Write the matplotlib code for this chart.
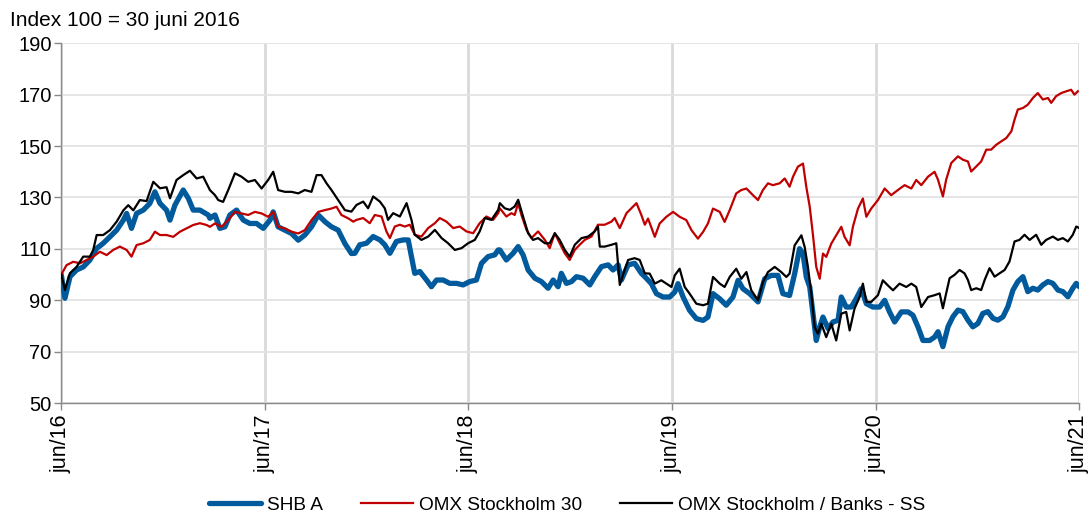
import matplotlib
matplotlib.use("Agg")
import matplotlib.pyplot as plt

plt.rcParams['font.family'] = ['Liberation Sans', 'DejaVu Sans']

# ---------------- data (years since 30 June 2016, index value) ----------------
tick_labels = ['jun/16', 'jun/17', 'jun/18', 'jun/19', 'jun/20', 'jun/21']
y_ticks = [50, 70, 90, 110, 130, 150, 170, 190]
series_names = ['SHB A', 'OMX Stockholm 30', 'OMX Stockholm / Banks - SS']

shb = [
    (0.0, 100), (0.018, 90.8), (0.043, 99.2), (0.075, 101.8), (0.108, 103), (0.141, 105.7), (0.174, 110.2),
    (0.206, 112.2), (0.239, 114.7), (0.272, 117.3), (0.305, 121.2), (0.321, 123.8), (0.345, 118), (0.370, 123.8),
    (0.403, 125.1), (0.435, 127.7), (0.460, 132.2), (0.485, 127.7), (0.517, 125.1), (0.534, 121.2), (0.558, 127),
    (0.599, 132.9), (0.624, 129.7), (0.648, 125.1), (0.681, 125.1), (0.722, 123.2),
    (0.730, 121.9), (0.755, 123.2), (0.779, 118), (0.804, 118.6), (0.828, 123.2), (0.861, 125.1), (0.894, 121.2),
    (0.926, 119.9), (0.959, 119.9), (0.992, 118), (1.025, 121.2), (1.041, 124.4), (1.065, 118.6), (1.098, 117.3),
    (1.131, 116), (1.164, 113.4), (1.196, 115.4), (1.229, 118.6), (1.262, 123.2), (1.295, 120.6), (1.327, 118.6),
    (1.360, 117.3), (1.393, 112.1), (1.425, 108.2),
    (1.442, 108.3), (1.466, 111.6), (1.499, 112.2), (1.532, 114.8), (1.565, 113.5), (1.589, 111.6), (1.614, 108.3),
    (1.646, 112.9), (1.679, 113.5), (1.704, 113.5), (1.720, 107), (1.736, 100.5), (1.761, 101.2), (1.794, 97.9),
    (1.818, 95.3), (1.843, 97.9), (1.876, 97.9), (1.908, 96.6), (1.941, 96.6), (1.974, 96), (2.006, 97.3),
    (2.039, 97.9), (2.064, 104.4), (2.096, 107), (2.129, 107.7), (2.146, 109.6),
    (2.154, 109.6), (2.186, 105.7), (2.219, 108.3), (2.244, 110.9), (2.268, 107.7), (2.293, 101.8), (2.326, 98.6),
    (2.358, 97.3), (2.391, 94.7), (2.416, 97.9), (2.440, 95.3), (2.456, 100.5), (2.481, 96.6), (2.506, 97.3),
    (2.530, 99.2), (2.563, 98.6), (2.596, 96), (2.620, 99.2), (2.653, 103.1), (2.686, 103.8), (2.710, 101.8),
    (2.735, 103.8), (2.751, 97.9), (2.784, 103.8), (2.816, 104.4), (2.849, 100.5), (2.866, 99.2),
    (2.898, 96.5), (2.923, 92.6), (2.955, 91.3), (2.988, 91.3), (3.013, 93.2), (3.029, 96.5), (3.054, 91.3),
    (3.086, 86.1), (3.119, 82.9), (3.152, 82.2), (3.176, 83.5), (3.201, 92.6), (3.234, 90.6), (3.266, 88.1),
    (3.299, 91.3), (3.324, 97.8), (3.348, 94.5), (3.381, 92.6), (3.422, 89.4), (3.455, 98.4), (3.487, 99.7),
    (3.520, 99.7), (3.544, 92.6), (3.577, 91.9),
    (3.602, 100.4), (3.626, 110.1), (3.643, 108.2), (3.659, 99.1), (3.676, 95.2), (3.692, 84.8), (3.708, 74.4),
    (3.725, 79.6), (3.741, 83.5), (3.766, 79), (3.790, 81.6), (3.815, 82.2), (3.831, 91.3), (3.855, 87.4),
    (3.880, 87.4), (3.904, 90.6), (3.929, 94.5), (3.954, 88.7), (3.986, 87.4), (4.019, 87.4), (4.044, 90),
    (4.068, 85.5), (4.093, 81.6), (4.126, 85.5), (4.159, 85.5), (4.183, 84.2), (4.208, 79.6), (4.232, 74.4),
    (4.265, 74.4), (4.289, 75.7),
    (4.306, 77.8), (4.330, 72), (4.355, 79.7), (4.379, 83.6), (4.404, 86.2), (4.428, 85.6), (4.453, 82.3),
    (4.477, 79.7), (4.502, 81), (4.526, 84.9), (4.551, 85.6), (4.576, 83), (4.600, 82.3), (4.625, 83.6),
    (4.649, 87.5), (4.674, 94), (4.698, 97.3), (4.723, 99.2), (4.747, 93.4), (4.772, 94.7), (4.796, 94),
    (4.821, 96), (4.846, 97.3), (4.870, 96.6), (4.895, 94), (4.919, 93.4), (4.944, 91.4), (4.968, 94.7),
    (4.985, 96.6), (5.0, 95.3),
]

omx30 = [
    (0.0, 100), (0.026, 103.7), (0.059, 105), (0.092, 104.4), (0.125, 105.7), (0.157, 107), (0.190, 108.9),
    (0.223, 107.6), (0.255, 109.6), (0.288, 110.9), (0.321, 109.6), (0.345, 107), (0.370, 111.5), (0.403, 112.2),
    (0.435, 113.5), (0.460, 116.7), (0.485, 115.4), (0.517, 115.4), (0.550, 114.7), (0.583, 116.7), (0.615, 118),
    (0.648, 119.3), (0.681, 120), (0.714, 119.3),
    (0.730, 118.6), (0.755, 119.9), (0.787, 118.6), (0.820, 121.2), (0.853, 124.4), (0.885, 123.8), (0.918, 123.2),
    (0.951, 124.4), (0.984, 123.8), (1.016, 122.5), (1.041, 124.4), (1.065, 118.6), (1.098, 118), (1.131, 116.7),
    (1.164, 116), (1.196, 117.3), (1.229, 121.2), (1.262, 124.4), (1.295, 125.1), (1.327, 125.7), (1.352, 126.4),
    (1.376, 123.2), (1.409, 121.9), (1.434, 120.6),
    (1.450, 121.3), (1.483, 122), (1.515, 120), (1.540, 123.2), (1.573, 122.6), (1.597, 116.8), (1.614, 114.2),
    (1.638, 118.7), (1.663, 119.4), (1.687, 118.7), (1.712, 119.4), (1.736, 115.5), (1.769, 114.8), (1.802, 118.1),
    (1.835, 120), (1.859, 122), (1.892, 120.6), (1.925, 118.1), (1.957, 118.7), (1.990, 116.8), (2.023, 116.1),
    (2.055, 120), (2.088, 122.6), (2.121, 121.3), (2.146, 123.9),
    (2.154, 125.8), (2.186, 122.6), (2.211, 123.9), (2.227, 123.2), (2.244, 127.8), (2.260, 123.2), (2.285, 117.4),
    (2.309, 114.2), (2.342, 116.8), (2.375, 113.5), (2.399, 110.3), (2.424, 116.1), (2.448, 112.2), (2.473, 108.3),
    (2.497, 105.7), (2.522, 109.6), (2.546, 111.6), (2.571, 113.5), (2.604, 114.8), (2.636, 119.4), (2.669, 119.4),
    (2.702, 120.6), (2.718, 122), (2.743, 118.1), (2.776, 123.9), (2.800, 125.8), (2.825, 127.8), (2.849, 123.2),
    (2.866, 119.4),
    (2.882, 121.8), (2.915, 114.7), (2.939, 119.9), (2.972, 122.5), (3.005, 124.4), (3.037, 122.5), (3.070, 121.2),
    (3.095, 117.3), (3.127, 114), (3.152, 116.6), (3.176, 119.9), (3.201, 125.7), (3.234, 124.4), (3.258, 120.5),
    (3.283, 125.1), (3.315, 131.6), (3.340, 132.9), (3.365, 133.5), (3.397, 130.9), (3.422, 129), (3.446, 132.9),
    (3.471, 135.5), (3.495, 134.8), (3.528, 135.5), (3.553, 137.4), (3.577, 134.2),
    (3.594, 138.1), (3.618, 142), (3.643, 143.2), (3.659, 134.2), (3.676, 126.4), (3.692, 115.3), (3.708, 103),
    (3.725, 98.4), (3.741, 108.2), (3.757, 106.9), (3.782, 112.1), (3.806, 115.3), (3.831, 118.6), (3.847, 114.7),
    (3.872, 111.4), (3.888, 118.6), (3.913, 125.7), (3.937, 129.6), (3.954, 122.5), (3.978, 125.7), (4.011, 129),
    (4.044, 133.5), (4.076, 130.9), (4.109, 132.9), (4.142, 134.8), (4.175, 133.5), (4.199, 136.8), (4.224, 134.8),
    (4.257, 138.1), (4.289, 140),
    (4.306, 136.9), (4.330, 130.4), (4.346, 136.9), (4.371, 143.4), (4.404, 146), (4.428, 144.7), (4.453, 144),
    (4.469, 140.1), (4.494, 142.1), (4.518, 144), (4.543, 148.6), (4.567, 148.6), (4.592, 150.5), (4.616, 151.8),
    (4.641, 153.1), (4.666, 155.7), (4.682, 160.3), (4.698, 164.2), (4.723, 164.8), (4.747, 166.1), (4.772, 168.7),
    (4.796, 170.6), (4.821, 168.1), (4.846, 168.7), (4.862, 166.8), (4.886, 169.4), (4.911, 170.6), (4.936, 171.3),
    (4.960, 171.9), (4.976, 170), (4.993, 171.3),
]

banks = [
    (0.0, 100), (0.018, 94), (0.043, 100.6), (0.075, 103), (0.108, 107), (0.141, 107), (0.157, 109.6),
    (0.174, 115.4), (0.206, 115.4), (0.239, 117.3), (0.272, 120.6), (0.305, 125), (0.329, 127), (0.354, 125),
    (0.386, 129), (0.419, 128.6), (0.452, 136.1), (0.485, 133.6), (0.517, 134), (0.534, 129.7), (0.566, 136.8),
    (0.599, 138.7), (0.632, 140.4), (0.665, 137.4), (0.697, 138.1),
    (0.730, 132.9), (0.755, 130.9), (0.771, 129), (0.795, 128.3), (0.820, 132.9), (0.853, 139.4), (0.885, 138.1),
    (0.918, 136.1), (0.951, 136.8), (0.984, 133.5), (1.016, 136.8), (1.041, 140), (1.065, 132.9), (1.098, 132.2),
    (1.131, 132.2), (1.164, 131.6), (1.196, 132.9), (1.229, 132.2), (1.254, 138.7), (1.278, 138.7), (1.303, 135.5),
    (1.327, 132.9), (1.360, 129), (1.393, 125.1), (1.425, 124.5),
    (1.450, 127.1), (1.483, 128.4), (1.507, 125.8), (1.532, 130.4), (1.565, 128.4), (1.589, 125.8), (1.605, 121.3),
    (1.630, 123.9), (1.663, 122.6), (1.696, 127.8), (1.720, 121.3), (1.736, 115.5), (1.769, 113.5), (1.802, 114.8),
    (1.835, 117.4), (1.868, 114.2), (1.900, 112.2), (1.933, 109.6), (1.966, 110.3), (1.998, 112.2), (2.031, 113.5),
    (2.055, 116.8), (2.080, 122), (2.113, 121.3), (2.146, 125.2),
    (2.154, 127.8), (2.178, 125.8), (2.203, 125.2), (2.227, 126.5), (2.244, 129.1), (2.268, 122.6), (2.293, 116.1),
    (2.317, 113.5), (2.342, 114.2), (2.375, 112.2), (2.399, 112.2), (2.424, 116.1), (2.448, 113.5), (2.473, 109.6),
    (2.497, 107), (2.522, 111.6), (2.555, 114.2), (2.587, 114.8), (2.620, 116.8), (2.636, 118.7), (2.645, 110.9),
    (2.669, 110.9), (2.702, 111.6), (2.726, 112.2), (2.743, 96), (2.759, 99.9), (2.784, 105.7), (2.816, 106.4),
    (2.841, 105.7), (2.866, 100.5),
    (2.890, 100.4), (2.915, 96.5), (2.947, 97.8), (2.972, 96.5), (2.997, 95.2), (3.013, 99.7), (3.037, 102.3),
    (3.062, 95.2), (3.086, 92.6), (3.119, 88.7), (3.152, 88.1), (3.176, 88.7), (3.201, 99.1), (3.234, 96.5),
    (3.258, 95.2), (3.283, 99.1), (3.315, 102.3), (3.340, 98.4), (3.365, 101), (3.389, 93.9), (3.422, 90),
    (3.446, 97.1), (3.471, 101), (3.504, 103), (3.536, 101), (3.561, 99.1), (3.577, 100.4),
    (3.602, 111.4), (3.635, 115.3), (3.651, 110.8), (3.667, 103), (3.684, 92.6), (3.700, 79.6), (3.716, 77),
    (3.733, 80.9), (3.757, 75.7), (3.782, 80.9), (3.806, 74.4), (3.831, 84.8), (3.855, 85.5), (3.872, 78.3),
    (3.896, 86.8), (3.921, 91.3), (3.937, 96.5), (3.954, 89.4), (3.978, 89.4), (4.011, 92), (4.035, 97.8),
    (4.060, 95.8), (4.085, 93.9), (4.117, 96.5), (4.150, 95.2), (4.175, 96.5), (4.199, 95.2), (4.224, 87.4),
    (4.257, 91.3), (4.289, 92),
    (4.314, 92.7), (4.330, 86.9), (4.346, 92.7), (4.363, 98.6), (4.387, 99.9), (4.412, 101.8), (4.436, 100.5),
    (4.453, 97.9), (4.469, 94), (4.494, 94.7), (4.518, 94), (4.535, 97.9), (4.559, 102.5), (4.584, 99.2),
    (4.608, 100.5), (4.633, 101.8), (4.657, 105.1), (4.682, 112.9), (4.706, 113.5), (4.731, 115.5), (4.756, 113.5),
    (4.788, 115.5), (4.813, 111.6), (4.837, 113.5), (4.870, 114.8), (4.895, 113.5), (4.919, 114.2), (4.944, 112.9),
    (4.968, 115.5), (4.985, 118.7), (5.0, 118.1),
]

# ---------------- plotting ----------------
fig = plt.figure(figsize=(10.9, 5.15), dpi=100)
ax = fig.add_axes([0.0562, 0.2171, 0.934, 0.699])

blue = '#005A9C'
red = '#C00000'

def xy(s):
    return [p[0] for p in s], [p[1] for p in s]

x, y = xy(shb)
ax.plot(x, y, color=blue, lw=3.8, solid_capstyle='round', solid_joinstyle='round', label=series_names[0], zorder=3)
x, y = xy(omx30)
ax.plot(x, y, color=red, lw=1.6, solid_joinstyle='round', label=series_names[1], zorder=4)
x, y = xy(banks)
ax.plot(x, y, color='black', lw=1.6, solid_joinstyle='round', label=series_names[2], zorder=5)

ax.set_xlim(0, 5)
ax.set_ylim(50, 190)
ax.set_yticks(y_ticks)
ax.set_xticks(range(len(tick_labels)))
ax.set_xticklabels(tick_labels, rotation=90)

ax.yaxis.grid(True, color='#e3e3e3', lw=1.3, zorder=0)
ax.xaxis.grid(True, color='#d9d9d9', lw=2.0, zorder=0)
ax.set_axisbelow(True)

for s in ['top', 'right']:
    ax.spines[s].set_visible(False)
ax.spines['left'].set_color('#898989')
ax.spines['bottom'].set_color('#898989')
ax.spines['left'].set_linewidth(1.0)
ax.spines['bottom'].set_linewidth(1.0)
ax.tick_params(axis='both', colors='#898989', length=5, width=1.0, labelcolor='black')
ax.tick_params(axis='y', pad=2, labelsize=14.5)
ax.tick_params(axis='x', pad=3, labelsize=15.5)

fig.text(10 / 1090, 1 - 21 / 515, 'Index 100 = 30 juni 2016', fontsize=15, va='center', ha='left')

leg = fig.legend(loc='center', bbox_to_anchor=(0.52, 1 - 505 / 515), ncol=3, frameon=False,
                 fontsize=13.7, handlelength=2.75, columnspacing=2.0, handletextpad=0.3)

fig.savefig('out.png', dpi=100)
